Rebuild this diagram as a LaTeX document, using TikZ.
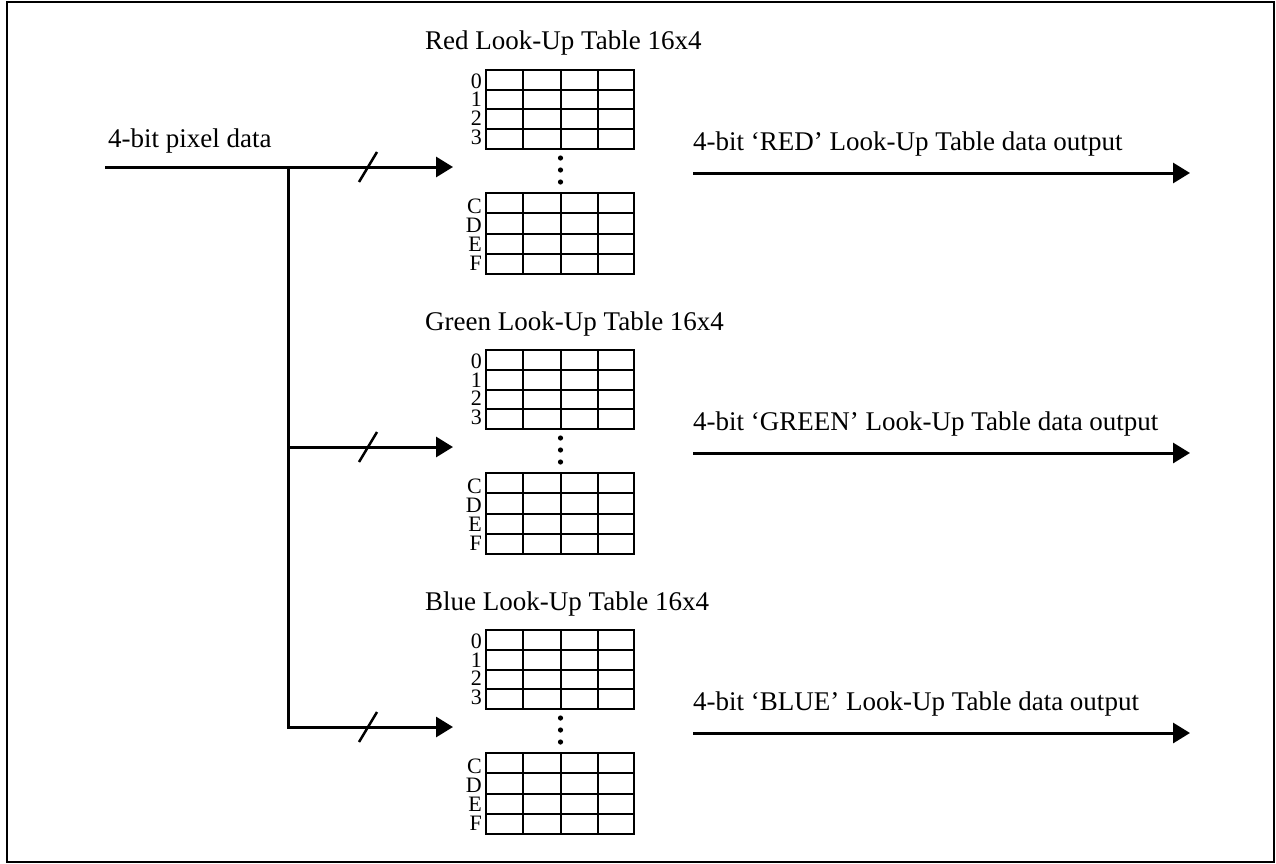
\documentclass[tikz,border=0pt]{standalone}
\usepackage{fontspec}
\setmainfont{Liberation Serif}
\usetikzlibrary{arrows.meta}
\begin{document}
\begin{tikzpicture}[x=1pt,y=-1pt,
  wire/.style={line width=3pt},
  arr/.style={wire,-{Triangle[length=17pt,width=20pt]}},
  gridline/.style={line width=2pt},
  slashmark/.style={line width=2.5pt},
  lbl/.style={font=\fontsize{27}{30}\selectfont, inner sep=0pt, anchor=base west},
  rowlbl/.style={font=\fontsize{22}{22}\selectfont, inner sep=0pt, anchor=east,
    text height=15pt, text depth=0pt},
]
\useasboundingbox (0,0) rectangle (1276,864);
\draw[line width=2pt] (7,2.5) rectangle (1274,862);

\node[lbl] (intxt) at (108,147) {4-bit pixel data};
\coordinate (in) at (105,167);
\coordinate (bus0) at (288,167);
\coordinate (bus2) at (288,727);
\draw[wire] (bus0) -- ([yshift=-1.5pt]bus2);

\foreach \i/\name/\col/\off in {0/Red/RED/0, 1/Green/GREEN/280, 2/Blue/BLUE/560}{
  \begin{scope}[shift={(0,\off)}]
    \node[lbl] (title\i) at (425,50) {\name{} Look-Up Table 16x4};
    % upper grid
    \draw[gridline] (486,70) rectangle (634,149);
    \foreach \x in {523,560.5,598} \draw[gridline] (\x,70) -- (\x,149);
    \foreach \y in {89.75,109.5,129.25} \draw[gridline] (486,\y) -- (634,\y);
    % lower grid
    \draw[gridline] (486,193) rectangle (634,274);
    \foreach \x in {523,560.5,598} \draw[gridline] (\x,193) -- (\x,274);
    \foreach \y in {213.25,233.5,253.75} \draw[gridline] (486,\y) -- (634,\y);
    % row labels
    \node[rowlbl] (r0\i) at (482,81) {0};
    \node[rowlbl] (r1\i) at (482,99.5) {1};
    \node[rowlbl] (r2\i) at (482,118) {2};
    \node[rowlbl] (r3\i) at (482,137) {3};
    \node[rowlbl] (rC\i) at (482,206) {C};
    \node[rowlbl] (rD\i) at (482,225) {D};
    \node[rowlbl] (rE\i) at (482,244) {E};
    \node[rowlbl] (rF\i) at (482,263) {F};
    % dots
    \foreach \y in {158,170,182} \fill (560.5,\y) circle (2.6);
    % input arrow
    \coordinate (tgt\i) at (453,167);
    \coordinate (src\i) at (288,167);
    \draw[slashmark] (359,182) -- (377,152);
    % output
    \node[lbl] (out\i) at (693,150) {4-bit ‘\col’ Look-Up Table data output};
    \coordinate (os\i) at (693,173);
    \coordinate (oe\i) at (1190,173);
    \draw[arr] (os\i) -- (oe\i);
  \end{scope}
}
\draw[arr] (in) -- (tgt0);
\draw[arr] (src1) -- (tgt1);
\draw[arr] (src2) -- (tgt2);
\end{tikzpicture}
\end{document}
